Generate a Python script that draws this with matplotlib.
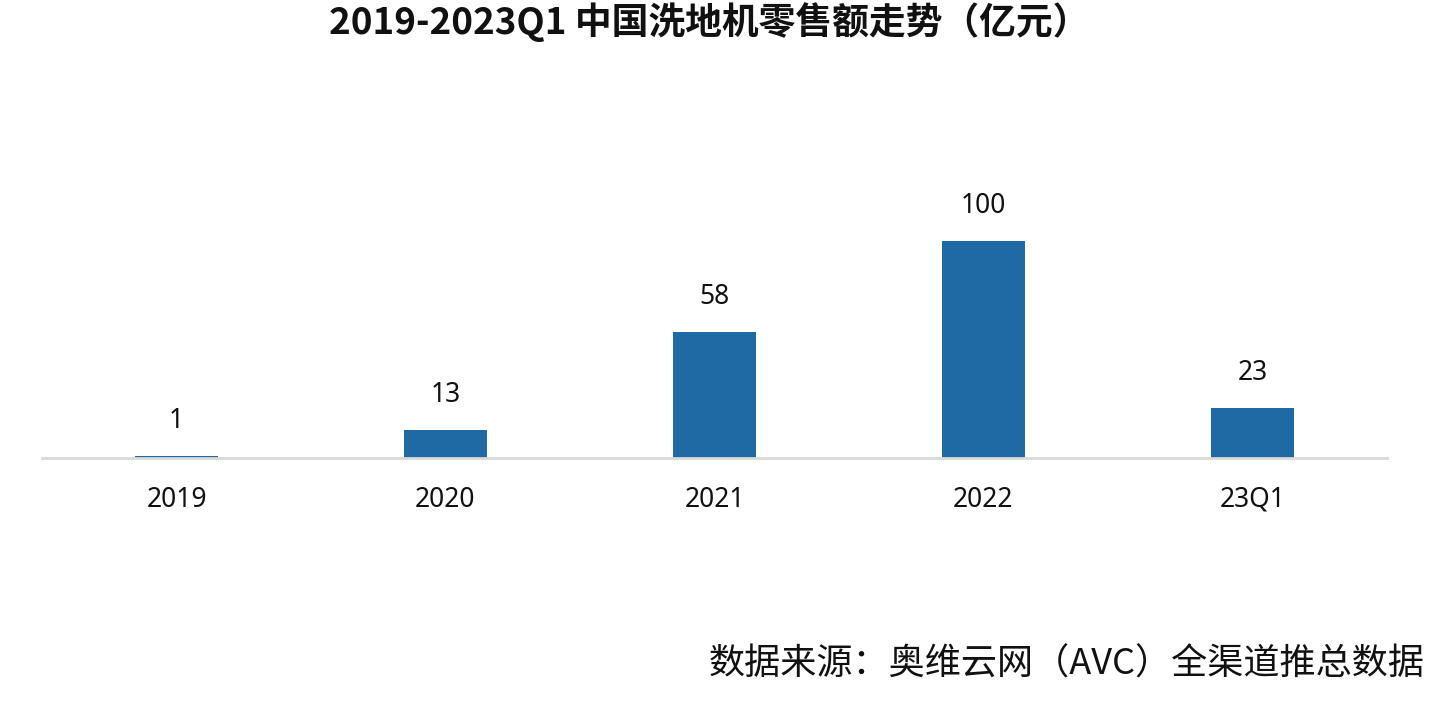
import matplotlib
matplotlib.use("Agg")
import matplotlib.pyplot as plt

plt.rcParams['font.family'] = ['Noto Sans CJK SC', 'DejaVu Sans']
num_family = ['Noto Sans', 'Noto Sans CJK SC']

categories = ['2019', '2020', '2021', '2022', '23Q1']
values = [1, 13, 58, 100, 23]
title = '2019-2023Q1 中国洗地机零售额走势（亿元）'
source = '数据来源：奥维云网（AVC）全渠道推总数据'

fig = plt.figure(figsize=(14.4, 7.05), dpi=100)
ax = fig.add_axes([42/1440, 247/705, (1387-42)/1440, 260.4/705])

x = list(range(len(categories)))
bars = ax.bar(x, values, width=0.312, color='#1f6aa5', zorder=2)
for xi, v in zip(x, values):
    ax.annotate(str(v), (xi, v), xytext=(0, 15), textcoords='offset points',
                ha='center', va='bottom', fontsize=19, color='#111111',
                family=num_family)

ax.set_xlim(-0.5, 4.5)
ax.set_ylim(0, 120)
ax.set_xticks(x)
ax.set_xticklabels(categories, fontsize=19, color='#111111', family=num_family)
ax.tick_params(axis='x', length=0, pad=20)
ax.set_yticks([])
for s in ['top', 'right', 'left']:
    ax.spines[s].set_visible(False)
ax.spines['bottom'].set_color('#d9d9d9')
ax.spines['bottom'].set_linewidth(2)

fig.text(709/1440, 1 - 22/705, title, ha='center', va='center',
         fontsize=26.5, fontweight='bold', color='#111111')
fig.text(1425/1440, 1 - 665/705, source, ha='right', va='center',
         fontsize=26, color='#111111')

fig.savefig('out.png', dpi=100)
